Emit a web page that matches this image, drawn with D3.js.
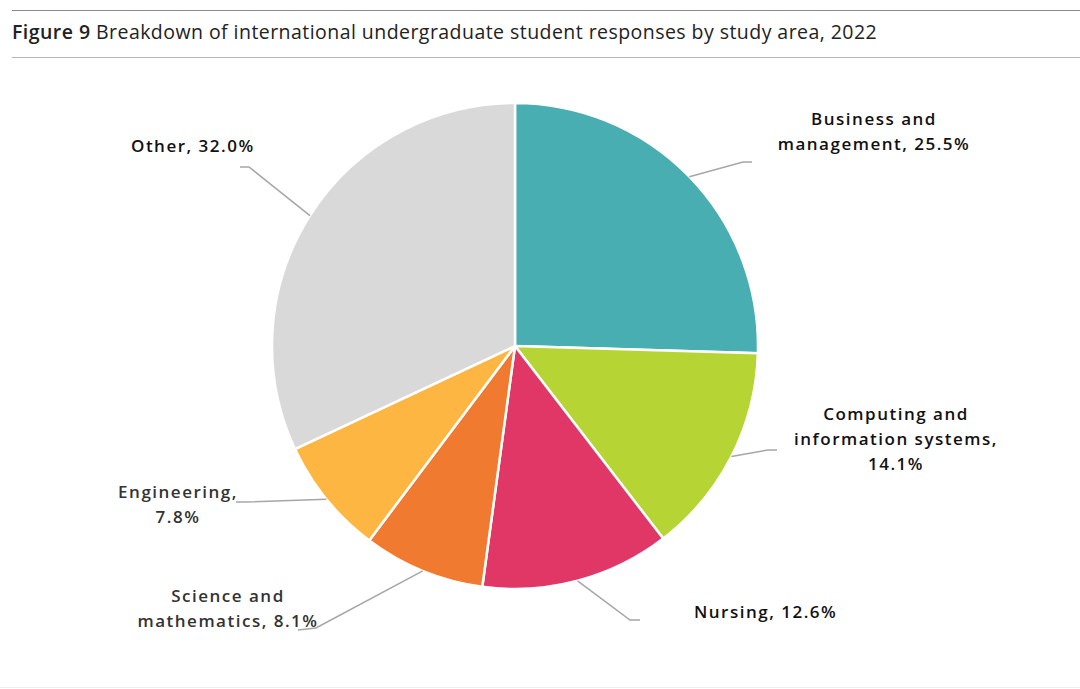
<!DOCTYPE html>
<html><head><meta charset="utf-8">
<script src="https://cdn.jsdelivr.net/npm/d3@7"></script>
<style>
html,body{margin:0;padding:0;background:#fff;}
svg{display:block;}
</style></head>
<body>
<svg id="chart" width="1080" height="689"></svg>
<script>
const categories = ["Business and management","Computing and information systems","Nursing","Science and mathematics","Engineering","Other"];
const values = [25.5, 14.1, 12.6, 8.1, 7.8, 32.0];
const labelLines = [
  ["Business and","management, 25.5%"],
  ["Computing and","information systems,","14.1%"],
  ["Nursing, 12.6%"],
  ["Science and","mathematics, 8.1%"],
  ["Engineering,","7.8%"],
  ["Other, 32.0%"]
];
const colors = ["#48aeb1","#b6d535","#e03766","#f07a2f","#fcb641","#d9d9d9"];

const W = 1080, H = 689;
const svg = d3.select("#chart");
const cx = 515, cy = 346, R = 243;

// frame lines
svg.append("line").attr("x1",12).attr("x2",W).attr("y1",10.5).attr("y2",10.5).attr("stroke","#8a8a8a").attr("stroke-width",1.2);
svg.append("line").attr("x1",12).attr("x2",W).attr("y1",57.5).attr("y2",57.5).attr("stroke","#b5b5b5").attr("stroke-width",1.2);
svg.append("line").attr("x1",0).attr("x2",W).attr("y1",687.5).attr("y2",687.5).attr("stroke","#eeeeee").attr("stroke-width",1);

const title = svg.append("text").attr("x",12).attr("y",39).attr("font-family","'Open Sans', Lato, sans-serif").attr("font-size",19.5).attr("fill","#222").attr("letter-spacing",0.45);
title.append("tspan").attr("font-weight",600).text("Figure 9 ");
title.append("tspan").attr("font-weight",400).text("Breakdown of international undergraduate student responses by study area, 2022");

const pie = d3.pie().sort(null).value(d => d)(values);
const arc = d3.arc().innerRadius(0).outerRadius(R);
const g = svg.append("g").attr("transform",`translate(${cx},${cy})`);
g.selectAll("path").data(pie).join("path")
  .attr("d",arc).attr("fill",(d,i)=>colors[i])
  .attr("stroke","#fff").attr("stroke-width",2.5).attr("stroke-linejoin","round");

// label layout: elbow, end, text anchor position, anchor
const layout = [
  {elbow:[743,162], end:[752,162], tx:874, ty:119, anchor:"middle"},
  {elbow:[768,450], end:[777,450], tx:896, ty:414, anchor:"middle"},
  {elbow:[630,620], end:[640,620], tx:694, ty:612, anchor:"start"},
  {elbow:[316,628], end:[298,630], tx:228, ty:596, anchor:"middle"},
  {elbow:[245,502], end:[236,502], tx:178, ty:492, anchor:"middle"},
  {elbow:[249,167], end:[240,167], tx:131, ty:146, anchor:"start"}
];
const lineGen = d3.line();
pie.forEach((d,i) => {
  const a = (d.startAngle + d.endAngle)/2;
  const p0 = [cx + R*Math.sin(a), cy - R*Math.cos(a)];
  const L = layout[i];
  svg.append("path").attr("d", lineGen([p0, L.elbow, L.end]))
    .attr("fill","none").attr("stroke","#a6a6a6").attr("stroke-width",1.5);
  const t = svg.append("text").attr("font-family","'Open Sans', Lato, sans-serif")
    .attr("font-size",17).attr("font-weight",600).attr("letter-spacing",1.5)
    .attr("fill", i>=3 && i<=4 ? "#333" : "#111").attr("text-anchor",L.anchor);
  labelLines[i].forEach((s,j) => {
    t.append("tspan").attr("x",L.tx).attr("y",L.ty + j*25).attr("dy","0.35em").text(s);
  });
});
</script>
</body></html>
